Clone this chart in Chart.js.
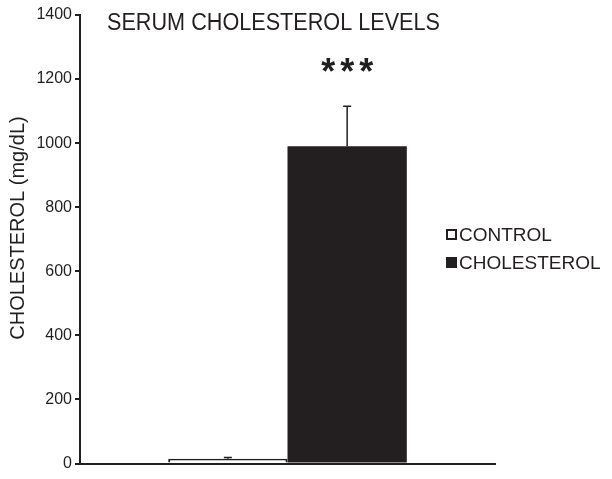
<!DOCTYPE html>
<html>
<head>
<meta charset="utf-8">
<script src="https://cdn.jsdelivr.net/npm/chart.js@4"></script>
<style>
  html, body { margin: 0; padding: 0; background: #fff; }
  #wrap { width: 612px; height: 479px; }
</style>
</head>
<body>
<div id="wrap"><canvas id="chart" width="612" height="479"></canvas></div>
<script>
// Data
const categories   = [''];
const seriesNames  = ['CONTROL', 'CHOLESTEROL'];
const controlVals  = [15];
const controlErr   = [4];
const cholVals     = [990];
const cholErr      = [125];
const sigMarks     = ['', '***'];
const yTicks       = [0, 200, 400, 600, 800, 1000, 1200, 1400];

const INK = '#231f20';
const FONT = '"Liberation Sans", Arial, sans-serif';

// Error bars, stars, title, axis title and legend drawn by hand
const extras = {
  id: 'extras',
  afterDatasetsDraw(chart) {
    const ctx = chart.ctx;
    const y = chart.scales.y;
    const errs = [controlErr, cholErr];
    ctx.save();
    ctx.strokeStyle = INK;
    ctx.fillStyle = INK;
    chart.data.datasets.forEach((ds, i) => {
      const meta = chart.getDatasetMeta(i);
      meta.data.forEach((bar, j) => {
        const v = ds.data[j], e = errs[i][j];
        const y0 = y.getPixelForValue(v);
        const y1 = y.getPixelForValue(v + e);
        ctx.lineWidth = 1.5;
        ctx.beginPath();
        ctx.moveTo(bar.x, y0);
        ctx.lineTo(bar.x, y1);
        ctx.moveTo(bar.x - 4, y1);
        ctx.lineTo(bar.x + 4, y1);
        ctx.stroke();
        const m = sigMarks[i];
        if (m) {
          ctx.font = 'bold 36px ' + FONT;
          ctx.textAlign = 'center';
          ctx.textBaseline = 'middle';
          [...m].forEach((c, k) => ctx.fillText(c, bar.x + (k - (m.length - 1) / 2) * 19, 74));
        }
      });
    });

    // title
    ctx.font = '23px ' + FONT;
    ctx.textAlign = 'left';
    ctx.textBaseline = 'middle';
    ctx.fillText('SERUM CHOLESTEROL LEVELS', 107, 24, 333);

    // y axis title
    ctx.save();
    ctx.translate(18, 228);
    ctx.rotate(-Math.PI / 2);
    ctx.font = '20px ' + FONT;
    ctx.textAlign = 'center';
    ctx.fillText('CHOLESTEROL (mg/dL)', 0, 0, 230);
    ctx.restore();

    // legend
    ctx.font = '19px ' + FONT;
    ctx.textAlign = 'left';
    ctx.textBaseline = 'middle';
    const rows = [235, 263];
    chart.data.datasets.forEach((ds, i) => {
      const ly = rows[i];
      if (i === 0) {
        ctx.lineWidth = 2;
        ctx.strokeRect(447, ly - 5, 9, 9);
      } else {
        ctx.fillRect(446, ly - 6, 11, 11);
      }
      ctx.fillText(ds.label, 459, ly + 1, i === 0 ? 96 : 146);
    });
    ctx.restore();
  }
};

new Chart(document.getElementById('chart').getContext('2d'), {
  type: 'bar',
  data: {
    labels: categories,
    datasets: [
      { label: seriesNames[0], data: controlVals, backgroundColor: '#ffffff', borderColor: INK, borderWidth: 2 },
      { label: seriesNames[1], data: cholVals, backgroundColor: INK, borderColor: INK, borderWidth: 0 }
    ]
  },
  options: {
    responsive: false,
    animation: false,
    layout: { padding: { top: 15, right: 117, left: 0, bottom: 0 } },
    datasets: { bar: { barPercentage: 1, categoryPercentage: 0.575 } },
    plugins: { legend: { display: false }, tooltip: { enabled: false } },
    scales: {
      x: {
        grid: { display: false },
        border: { display: true, color: INK, width: 2 },
        ticks: { display: false },
        afterFit: s => { s.height = 15.5; }
      },
      y: {
        min: 0, max: 1400,
        afterBuildTicks: s => { s.ticks = yTicks.map(v => ({ value: v })); },
        grid: { drawOnChartArea: false, drawTicks: true, tickLength: 5, color: INK, lineWidth: 2 },
        border: { display: true, color: INK, width: 2 },
        ticks: { color: INK, font: { family: FONT, size: 16 }, padding: 3, callback: v => String(v) },
        afterFit: s => { s.width = 80; }
      }
    }
  },
  plugins: [extras]
});
</script>
</body>
</html>
